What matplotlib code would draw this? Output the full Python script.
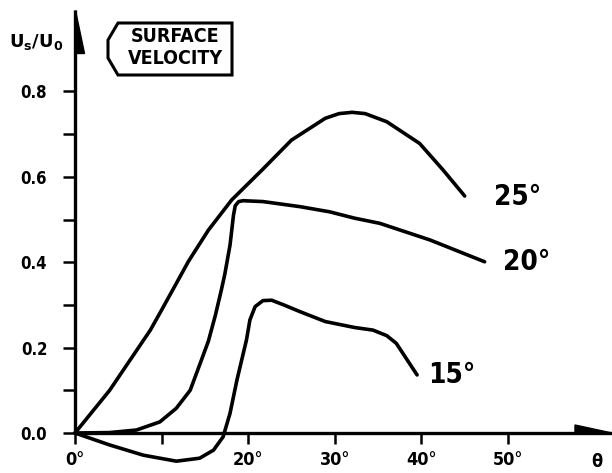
import matplotlib
matplotlib.use("Agg")
import matplotlib.pyplot as plt
from matplotlib.patches import Polygon

plt.rcParams['mathtext.fontset'] = 'dejavusans'

# ---- data ----
theta_25 = [0, 4.0, 8.7, 10.0, 11.5, 13.1, 15.4, 18.1, 21.6, 25.0, 28.9, 30.5, 32.0, 33.5, 36.0, 39.8, 42.5, 45.0]
vel_25 = [0, 0.100, 0.241, 0.288, 0.343, 0.402, 0.475, 0.546, 0.616, 0.686, 0.737, 0.748, 0.751, 0.748, 0.729, 0.678, 0.616, 0.555]

theta_20 = [0, 4.0, 7.1, 9.8, 11.7, 13.3, 14.4, 15.4, 16.2, 16.9, 17.3, 17.9, 18.3, 18.5, 18.9, 19.4, 21.7, 26.0, 29.4, 32.3, 35.2, 41.0, 47.3]
vel_20 = [0, 0.001, 0.007, 0.026, 0.058, 0.100, 0.160, 0.215, 0.275, 0.335, 0.372, 0.440, 0.510, 0.532, 0.542, 0.544, 0.542, 0.530, 0.518, 0.503, 0.491, 0.452, 0.401]

theta_15 = [0, 4.0, 7.9, 11.7, 14.4, 16.0, 17.1, 17.9, 18.7, 19.8, 20.2, 20.8, 21.7, 22.7, 24.1, 26.0, 28.9, 32.3, 34.4, 36.0, 37.1, 39.5]
vel_15 = [0, -0.028, -0.052, -0.066, -0.059, -0.040, -0.009, 0.046, 0.124, 0.218, 0.265, 0.296, 0.310, 0.311, 0.300, 0.284, 0.261, 0.247, 0.241, 0.228, 0.210, 0.136]

series_labels = ["25°", "20°", "15°"]
label_theta = [51.1, 52.2, 43.5]
label_vel = [0.553, 0.401, 0.136]

x_ticks = [0, 10, 20, 30, 40, 50]
x_ticklabels = ["0°", "", "20°", "30°", "40°", "50°"]
y_major = [0.0, 0.2, 0.4, 0.6, 0.8]
y_minor = [0.1, 0.3, 0.5, 0.7]

# ---- layout ----
W, H = 612, 473
ox, oy = 75, 433          # pixel position of data origin
ppd, ppu = 8.66, 427      # pixels per degree / per unit velocity
xmax = (W - ox) / ppd
ytop, ybot = 0.99, -0.09

fig = plt.figure(figsize=(W / 100, H / 100), dpi=100)
ax = fig.add_axes([ox / W, (H - oy + ybot * ppu) / H, 1 - ox / W, (ytop - ybot) * ppu / H])
ax.set_xlim(0, xmax)
ax.set_ylim(ybot, ytop)

for s in ['top', 'right']:
    ax.spines[s].set_visible(False)
ax.spines['bottom'].set_position(('data', 0))
ax.spines['left'].set_bounds(0, ytop)
for s in ['left', 'bottom']:
    ax.spines[s].set_linewidth(2.4)
    ax.spines[s].set_capstyle('butt')

lw = 2.6
for th, v in [(theta_25, vel_25), (theta_20, vel_20), (theta_15, vel_15)]:
    ax.plot(th, v, color='black', lw=lw, solid_joinstyle='round', solid_capstyle='round', clip_on=False)

cond = dict(family='DejaVu Sans', stretch='condensed', fontweight='bold')
for lab, tx, ty in zip(series_labels, label_theta, label_vel):
    ax.text(tx, ty, lab, fontsize=20, ha='center', va='center', color='black',
            family='DejaVu Sans', stretch='condensed', fontweight='semibold')

# ticks
ax.set_xticks(x_ticks)
ax.set_xticklabels(x_ticklabels, fontsize=13, **cond)
ax.tick_params(axis='x', direction='out', length=8, width=1.8, pad=5)
ax.set_yticks(y_major)
ax.set_yticklabels([f"{v:.1f}" for v in y_major], fontsize=12, **cond)
ax.set_yticks(y_minor, minor=True)
ax.tick_params(axis='y', which='both', direction='out', length=9, width=1.8, pad=11)

ax.text(60.3, -0.068, "θ", fontsize=13, ha='center', va='center', **cond)

# arrow heads
ax.add_patch(Polygon([[0, ytop], [0, (oy - 53) / ppu], [9 / ppd, (oy - 53) / ppu]],
                     closed=True, color='black', clip_on=False))
ax.add_patch(Polygon([[(575 - ox) / ppd, 0], [(575 - ox) / ppd, 8 / ppu], [xmax, 0]],
                     closed=True, color='black', clip_on=False))

# axis title
fig.text(36 / W, 1 - 42 / H, r'$\mathbf{U_s/U_0}$', fontsize=13, ha='center', va='center')

# SURFACE VELOCITY box
pts = [(118, 23), (108, 40), (108, 58), (118, 75), (232, 75), (232, 23)]
fig.patches.append(Polygon([(x / W, 1 - y / H) for x, y in pts], closed=True,
                           fill=False, ec='black', lw=2.2, transform=fig.transFigure, figure=fig))
fig.text(175 / W, 1 - 36 / H, "SURFACE", fontsize=14, ha='center', va='center', **cond)
fig.text(175 / W, 1 - 58 / H, "VELOCITY", fontsize=14, ha='center', va='center', **cond)

fig.savefig("out.png", dpi=100)
